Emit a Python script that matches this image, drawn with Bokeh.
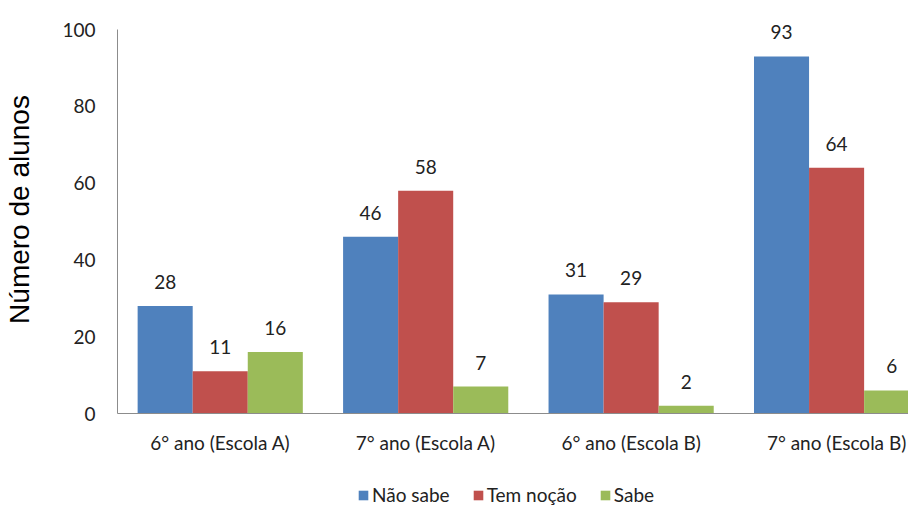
from bokeh.plotting import figure
from bokeh.layouts import column
from bokeh.models import ColumnDataSource, Legend, LegendItem, FixedTicker, Range1d
from bokeh.core.properties import value
from bokeh.embed import file_html
from bokeh.resources import INLINE

# Survey results per class group
groups = ["6° ano (Escola A)", "7° ano (Escola A)", "6° ano (Escola B)", "7° ano (Escola B)"]
nao_sabe = [28, 46, 31, 93]
tem_nocao = [11, 58, 29, 64]
sabe = [16, 7, 2, 6]
series_names = ["Não sabe", "Tem noção", "Sabe"]
series_colors = ["#4F81BD", "#C0504D", "#9BBB59"]
y_ticks = [0, 20, 40, 60, 80, 100]

LABEL_FONT = "Lato"
TEXT_COLOR = "#222222"
bar_w = 0.268
offsets = [-bar_w, 0.0, bar_w]

MAIN_H = 458
LEFT = 117
p = figure(width=908, height=MAIN_H, output_backend="svg", toolbar_location=None,
           x_range=Range1d(0, 3.85), y_range=Range1d(0, 106.25))
p.min_border_left = LEFT
p.min_border_right = 0
p.min_border_top = 5
p.min_border_bottom = MAIN_H - 413
p.outline_line_color = None
p.xgrid.visible = False
p.ygrid.visible = False
p.background_fill_color = "white"
p.border_fill_color = "white"

centers = [i + 0.5 for i in range(len(groups))]
for vals, off, color in zip([nao_sabe, tem_nocao, sabe], offsets, series_colors):
    src = ColumnDataSource(dict(x=[c + off for c in centers], top=vals,
                                lbl=[str(v) for v in vals]))
    p.vbar(x="x", top="top", width=bar_w, source=src, fill_color=color, line_color=None)
    p.text(x="x", y="top", text="lbl", source=src, y_offset=-17,
           text_align="center", text_baseline="bottom", text_font=value(LABEL_FONT),
           text_font_size="19px", text_color=TEXT_COLOR)

# Value axis: line only spans 0..100
p.yaxis.ticker = FixedTicker(ticks=y_ticks)
p.yaxis.bounds = (0, 100)
p.yaxis.major_tick_line_color = None
p.yaxis.minor_tick_line_color = None
p.yaxis.axis_line_color = "#8c8c8c"
p.yaxis.major_label_text_font = LABEL_FONT
p.yaxis.major_label_text_font_size = "19px"
p.yaxis.major_label_text_color = TEXT_COLOR
p.yaxis.major_label_standoff = 16
p.yaxis.axis_label = "Número de alunos"
p.yaxis.axis_label_text_font = "Liberation Sans"
p.yaxis.axis_label_text_font_size = "28px"
p.yaxis.axis_label_text_font_style = "normal"
p.yaxis.axis_label_text_color = "#000000"
p.yaxis.axis_label_standoff = 24

# Category axis
p.xaxis.ticker = FixedTicker(ticks=centers)
p.xaxis.major_label_overrides = {c: g for c, g in zip(centers, groups)}
p.xaxis.major_tick_line_color = None
p.xaxis.minor_tick_line_color = None
p.xaxis.axis_line_color = "#8c8c8c"
p.xaxis.major_label_text_font = LABEL_FONT
p.xaxis.major_label_text_font_size = "19px"
p.xaxis.major_label_text_color = TEXT_COLOR
p.xaxis.major_label_standoff = 11

# Legend strip under the chart; key renderers have zero height
leg = figure(width=908, height=507 - MAIN_H, output_backend="svg", toolbar_location=None,
             x_range=Range1d(0, 1), y_range=Range1d(0, 1),
             x_axis_location=None, y_axis_location=None)
leg.min_border_left = LEFT
leg.min_border_right = 0
leg.min_border_top = 0
leg.min_border_bottom = 0
leg.outline_line_color = None
leg.grid.visible = False
leg.background_fill_color = "white"
leg.border_fill_color = "white"
keys = [leg.vbar(x=[0.5], top=[0], bottom=[0], width=0.01, fill_color=c, line_color=None)
        for c in series_colors]
legend = Legend(items=[LegendItem(label=n, renderers=[r]) for n, r in zip(series_names, keys)],
                orientation="horizontal", location=(357 - LEFT, 1),
                label_text_font=LABEL_FONT, label_text_font_size="19px",
                label_text_color=TEXT_COLOR, glyph_width=12, glyph_height=12,
                label_standoff=3, spacing=22, padding=0, margin=0,
                border_line_color=None, background_fill_alpha=0)
leg.add_layout(legend, "center")

open("out.html", "w").write(file_html(column(p, leg, spacing=0), INLINE))
